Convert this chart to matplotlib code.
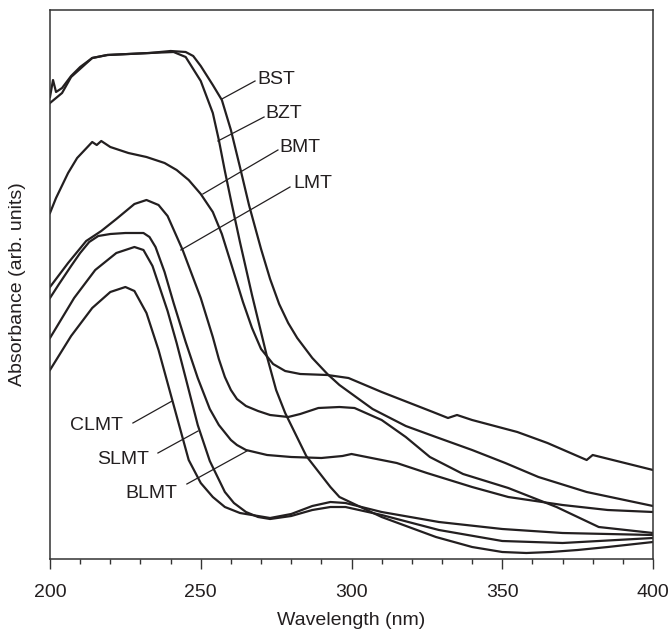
import matplotlib
matplotlib.use("Agg")
import matplotlib.pyplot as plt
from matplotlib.ticker import MultipleLocator

plt.rcParams["font.family"] = ["Liberation Sans", "DejaVu Sans"]

INK = "#231f20"

# wavelength (nm) / absorbance (arb. units)
bst_nm = [200, 201, 202, 204, 207, 210, 214, 219, 226, 233, 240, 245, 247.5, 250, 254, 257,
          260, 263, 266, 270, 273, 276, 279, 282, 287, 292, 296, 307, 318, 328, 340, 351, 362, 378, 400]
bst_abs = [4.62, 4.79, 4.67, 4.71, 4.83, 4.92, 5.01, 5.04, 5.05, 5.06, 5.08, 5.07, 5.03, 4.93, 4.74, 4.59,
           4.29, 3.92, 3.54, 3.10, 2.80, 2.55, 2.36, 2.21, 2.01, 1.85, 1.74, 1.50, 1.33, 1.22, 1.09, 0.96, 0.82, 0.67, 0.53]

bzt_nm = [200, 204, 207, 214, 219, 226, 233, 241, 245, 250, 254, 256, 258, 260, 263, 267, 272,
          275, 278, 285, 293, 296, 310, 328, 340, 350, 358, 366, 375, 385, 400]
bzt_abs = [4.56, 4.66, 4.82, 5.01, 5.04, 5.05, 5.06, 5.07, 5.02, 4.78, 4.46, 4.19, 3.88, 3.59, 3.17, 2.64, 2.02,
           1.69, 1.46, 1.03, 0.72, 0.62, 0.42, 0.22, 0.12, 0.07, 0.06, 0.07, 0.09, 0.12, 0.17]

bmt_nm = [200, 202, 206, 209, 214, 215.5, 217, 220, 226, 232, 238, 242, 246, 250, 254, 257, 260, 264,
          267, 270, 274, 278, 283, 292, 299, 310, 327, 332, 335, 340, 355, 365, 378, 380, 384, 400]
bmt_abs = [3.46, 3.61, 3.86, 4.01, 4.17, 4.14, 4.18, 4.12, 4.06, 4.02, 3.96, 3.89, 3.79, 3.65, 3.47, 3.25, 2.96, 2.57,
           2.31, 2.10, 1.95, 1.88, 1.85, 1.84, 1.81, 1.67, 1.47, 1.41, 1.44, 1.39, 1.27, 1.16, 0.99, 1.04, 1.01, 0.89]

lmt_nm = [200, 206, 212, 217, 222, 228, 232, 236, 239, 244, 250, 254, 256, 258, 260, 262, 265, 269, 273,
          279, 283, 289, 296, 301, 310, 318, 326, 337, 352, 368, 382, 400]
lmt_abs = [2.72, 2.96, 3.18, 3.28, 3.40, 3.55, 3.59, 3.54, 3.43, 3.09, 2.61, 2.22, 2.00, 1.82, 1.69, 1.60, 1.53,
           1.48, 1.44, 1.42, 1.45, 1.51, 1.52, 1.51, 1.39, 1.22, 1.02, 0.85, 0.71, 0.52, 0.32, 0.26]

blmt_nm = [200, 203, 207, 210, 213, 216, 220, 225, 231, 233, 235, 238, 241, 245, 249, 253, 256, 260,
           262, 265, 272, 280, 290, 297, 300, 305, 315, 325, 340, 352, 370, 385, 400]
blmt_abs = [2.61, 2.75, 2.93, 3.06, 3.17, 3.23, 3.25, 3.26, 3.26, 3.22, 3.12, 2.87, 2.56, 2.17, 1.81, 1.50, 1.34, 1.19,
            1.14, 1.09, 1.04, 1.02, 1.01, 1.03, 1.05, 1.02, 0.96, 0.86, 0.72, 0.62, 0.54, 0.49, 0.47]

slmt_nm = [200, 208, 215, 222, 228, 231, 234, 239, 242, 245, 249, 253, 258, 261, 265, 269, 273, 280, 287,
           293, 298, 310, 329, 350, 370, 400]
slmt_abs = [2.21, 2.61, 2.89, 3.06, 3.12, 3.09, 2.93, 2.48, 2.16, 1.81, 1.34, 0.98, 0.67, 0.56, 0.47, 0.42, 0.40,
            0.43, 0.49, 0.52, 0.52, 0.44, 0.29, 0.18, 0.16, 0.21]

clmt_nm = [200, 207, 214, 220, 225, 228, 232, 236, 241, 246, 250, 254, 258, 263, 273, 280, 287, 293, 298,
           310, 329, 350, 370, 400]
clmt_abs = [1.89, 2.23, 2.51, 2.67, 2.72, 2.68, 2.46, 2.09, 1.54, 0.99, 0.76, 0.62, 0.52, 0.46, 0.41, 0.45, 0.53,
            0.57, 0.56, 0.47, 0.37, 0.30, 0.26, 0.24]

series = [
    (bst_nm, bst_abs),
    (bzt_nm, bzt_abs),
    (bmt_nm, bmt_abs),
    (lmt_nm, lmt_abs),
    (blmt_nm, blmt_abs),
    (slmt_nm, slmt_abs),
    (clmt_nm, clmt_abs),
]

# label text, text anchor, leader start, leader end (on the curve)
labels = ["BST", "BZT", "BMT", "LMT", "CLMT", "SLMT", "BLMT"]
label_xy = [(268.7, 4.80), (271.6, 4.45), (276.0, 4.11), (280.6, 3.76),
            (224.2, 1.33), (232.8, 1.00), (242.1, 0.66)]
label_ha = ["left", "left", "left", "left", "right", "right", "right"]
leader_from = [(268.0, 4.78), (271.0, 4.42), (275.6, 4.09), (279.6, 3.72),
               (227.5, 1.36), (235.8, 1.06), (245.4, 0.75)]
leader_to = [(257.0, 4.60), (255.7, 4.18), (250.7, 3.65), (243.4, 3.09),
             (240.5, 1.58), (249.1, 1.28), (265.3, 1.08)]


fig = plt.figure(figsize=(6.72, 6.30), dpi=100)
ax = fig.add_axes([50 / 672, 71 / 630, 603 / 672, 549 / 630])

for nm, a in series:
    ax.plot(nm, a, color=INK, lw=1.6, solid_joinstyle="round")

for text, xy, ha, p0, p1 in zip(labels, label_xy, label_ha, leader_from, leader_to):
    ax.plot([p0[0], p1[0]], [p0[1], p1[1]], color=INK, lw=0.9)
    ax.text(xy[0], xy[1], text, ha=ha, va="center", fontsize=14, color=INK)

ax.set_xlim(200, 400)
ax.set_ylim(0, 5.49)
ax.xaxis.set_major_locator(MultipleLocator(50))
ax.xaxis.set_minor_locator(MultipleLocator(10))
ax.set_yticks([])
ax.tick_params(axis="x", which="major", direction="out", length=7.2, width=1.0,
               labelsize=14, pad=11, colors="#333333", labelcolor=INK)
ax.tick_params(axis="x", which="minor", direction="out", length=3.6, width=1.0, colors="#333333")
for sp in ax.spines.values():
    sp.set_color("#333333")
    sp.set_linewidth(1.1)

ax.set_xlabel("Wavelength (nm)", fontsize=14, color=INK)
ax.set_ylabel("Absorbance (arb. units)", fontsize=14, color=INK)
ax.xaxis.set_label_coords(0.5, -0.097)
ax.yaxis.set_label_coords(-0.040, 0.5)

fig.savefig("out.png", dpi=100)
